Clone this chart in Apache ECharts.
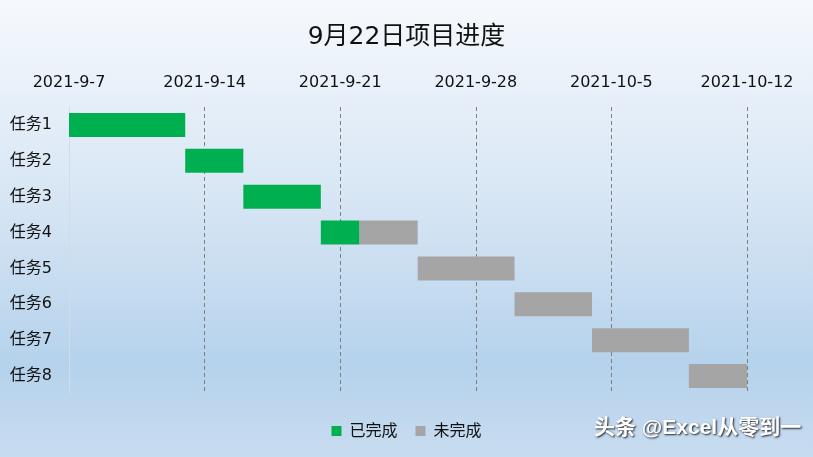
<!DOCTYPE html>
<html>
<head>
<meta charset="utf-8">
<script src="https://cdn.jsdelivr.net/npm/echarts@6/dist/echarts.min.js"></script>
<style>
html,body{margin:0;padding:0;}
#c{width:813px;height:457px;}
</style>
</head>
<body>
<div id="c"></div>
<script>
const tasks = ['任务1','任务2','任务3','任务4','任务5','任务6','任务7','任务8'];
const startDates = ['2021-9-7','2021-9-13','2021-9-16','2021-9-20','2021-9-25','2021-9-30','2021-10-4','2021-10-9'];
const doneDays = [6,3,4,2,0,0,0,0];
const todoDays = [0,0,0,3,5,4,5,3];
const axisStart = '2021-9-7';
const axisEnd = '2021-10-12';
const tickDays = 7;

function parseD(s){const p=s.split('-').map(Number);return Date.UTC(p[0],p[1]-1,p[2]);}
const DAY=86400000;
const base=parseD(axisStart);
const offsets=startDates.map(s=>(parseD(s)-base)/DAY);
const span=(parseD(axisEnd)-base)/DAY;
function fmt(v){const d=new Date(base+v*DAY);return d.getUTCFullYear()+'-'+(d.getUTCMonth()+1)+'-'+d.getUTCDate();}

const chart=echarts.init(document.getElementById('c'));
const font='"Open Sans","Noto Sans CJK SC",sans-serif';
const wide='"DejaVu Sans","Noto Sans CJK SC",sans-serif';
chart.setOption({
  backgroundColor:new echarts.graphic.LinearGradient(0,0,0,1,[
    {offset:0,color:'#f6f9fd'},
    {offset:0.45,color:'#d6e5f4'},
    {offset:0.8,color:'#b5d2ec'},
    {offset:1,color:'#c8dcf0'}
  ]),
  animation:false,
  textStyle:{fontFamily:font},
  title:{text:'9月22日项目进度',left:'center',top:20,textStyle:{fontSize:25,fontWeight:'normal',color:'#111',fontFamily:wide}},
  legend:{data:['已完成','未完成'],bottom:13,left:'center',itemWidth:10,itemHeight:10,itemGap:18,icon:'rect',
    textStyle:{fontSize:16,color:'#111',fontFamily:font,padding:[0,0,0,3]}},
  grid:{left:69,right:66,top:107,bottom:63,containLabel:false},
  xAxis:{type:'value',position:'top',min:0,max:span,interval:tickDays,
    axisLine:{show:false},axisTick:{show:false},
    axisLabel:{formatter:fmt,fontSize:16,color:'#111',margin:16,fontFamily:wide},
    splitLine:{show:true,showMinLine:false,lineStyle:{type:[4,3],color:'#7f7f7f',width:1}}},
  yAxis:{type:'category',data:tasks,inverse:true,
    axisLine:{show:true,lineStyle:{color:'#d4dbe3'}},axisTick:{show:false},
    axisLabel:{fontSize:16,color:'#111',margin:17,fontFamily:wide,padding:[3,0,0,0]}},
  series:[
    {name:'offset',type:'bar',stack:'g',data:offsets,itemStyle:{color:'transparent'},barWidth:24,silent:true},
    {name:'已完成',type:'bar',stack:'g',data:doneDays,itemStyle:{color:'#00b050'},barWidth:24},
    {name:'未完成',type:'bar',stack:'g',data:todoDays,itemStyle:{color:'#a5a5a5'},barWidth:24}
  ],
  graphic:[{type:'text',left:594,top:418,style:{text:'头条 @Excel从零到一',fontSize:21,fontWeight:'bold',fill:'#ffffff',
    fontFamily:'"Liberation Sans","Noto Sans CJK SC",sans-serif',textShadowColor:'rgba(0,0,0,0.85)',textShadowBlur:2,textShadowOffsetX:1,textShadowOffsetY:1}}]
});
</script>
</body>
</html>
